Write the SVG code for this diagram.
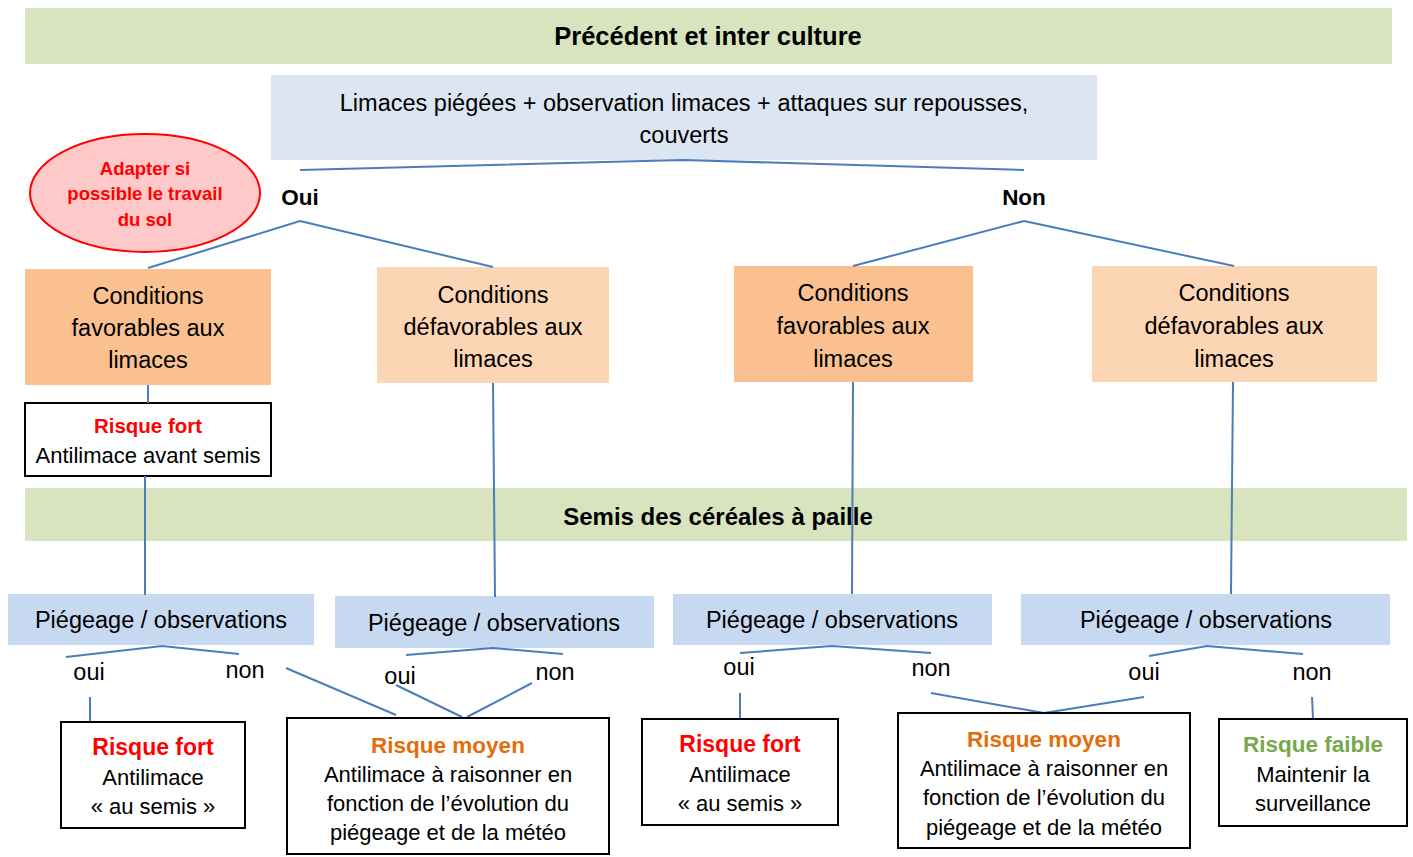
<svg xmlns="http://www.w3.org/2000/svg" width="1413" height="857" viewBox="0 0 1413 857">
<style>
text{font-family:"Liberation Sans",Arial,sans-serif;fill:#000;text-anchor:middle}
.t{font-size:23.5px}
.s{font-size:22px}
.b{font-weight:bold}
.band{fill:#d7e4bd}
.blue{fill:#dce6f2}
.pie{fill:#c6d9f1}
.or1{fill:#fac090}
.or2{fill:#fcd5b5}
.res{fill:#fff;stroke:#000;stroke-width:2}
.red{fill:#ff0000}
.org{fill:#e46c0a}
.grn{fill:#77a84a}
#connectors line,#connectors polyline{stroke:#4a7ebb;stroke-width:2;fill:none}
</style>
<g id="band1"><rect class="band" x="25" y="8" width="1367" height="56"/><text class="b" x="708" y="45" font-size="25.5">Précédent et inter culture</text></g>
<g id="question"><rect class="blue" x="271" y="75" width="826" height="85"/>
<text class="t" x="684" y="111">Limaces piégées + observation limaces + attaques sur repousses,</text>
<text class="t" x="684" y="143">couverts</text></g>
<g id="ellipse"><ellipse cx="145" cy="193" rx="115" ry="59" fill="#ffc9c9" stroke="#ff0000" stroke-width="2"/>
<text class="b red" font-size="18.5" x="145" y="175">Adapter si</text>
<text class="b red" font-size="18.5" x="145" y="200">possible le travail</text>
<text class="b red" font-size="18.5" x="145" y="226">du sol</text></g>
<g id="oui"><text class="b" font-size="22.5" x="300" y="205">Oui</text></g>
<g id="non"><text class="b" font-size="22.5" x="1024" y="205">Non</text></g>
<g id="cond1"><rect class="or1" x="25" y="269" width="246" height="116"/>
<text class="t" x="148" y="304">Conditions</text><text class="t" x="148" y="336">favorables aux</text><text class="t" x="148" y="368">limaces</text></g>
<g id="cond2"><rect class="or2" x="377" y="267" width="232" height="116"/>
<text class="t" x="493" y="303">Conditions</text><text class="t" x="493" y="335">défavorables aux</text><text class="t" x="493" y="367">limaces</text></g>
<g id="cond3"><rect class="or1" x="734" y="266" width="239" height="116"/>
<text class="t" x="853" y="301">Conditions</text><text class="t" x="853" y="334">favorables aux</text><text class="t" x="853" y="367">limaces</text></g>
<g id="cond4"><rect class="or2" x="1092" y="266" width="285" height="116"/>
<text class="t" x="1234" y="301">Conditions</text><text class="t" x="1234" y="334">défavorables aux</text><text class="t" x="1234" y="367">limaces</text></g>
<g id="risk0"><rect class="res" x="25" y="403" width="246" height="73"/>
<text class="b red" font-size="20.5" x="148" y="433">Risque fort</text>
<text class="s" x="148" y="463">Antilimace avant semis</text></g>
<g id="band2"><rect class="band" x="25" y="488" width="1382" height="53"/><text class="b" x="718" y="525" font-size="24">Semis des céréales à paille</text></g>
<g id="pieA"><rect class="pie" x="8" y="594" width="306" height="51"/><text class="t" x="161" y="628">Piégeage / observations</text></g>
<g id="pieB"><rect class="pie" x="335" y="596" width="319" height="52"/><text class="t" x="494" y="631">Piégeage / observations</text></g>
<g id="pieC"><rect class="pie" x="673" y="594" width="319" height="51"/><text class="t" x="832" y="628">Piégeage / observations</text></g>
<g id="pieD"><rect class="pie" x="1021" y="594" width="369" height="51"/><text class="t" x="1206" y="628">Piégeage / observations</text></g>
<g id="labels">
<text class="t" x="89" y="680">oui</text><text class="t" x="245" y="678">non</text>
<text class="t" x="400" y="684">oui</text><text class="t" x="555" y="680">non</text>
<text class="t" x="739" y="675">oui</text><text class="t" x="931" y="676">non</text>
<text class="t" x="1144" y="680">oui</text><text class="t" x="1312" y="680">non</text>
</g>
<g id="connectors">
<polyline points="300,170 683,160 1024,170"/>
<line x1="300" y1="221" x2="148" y2="268"/><line x1="300" y1="221" x2="493" y2="267"/>
<line x1="1024" y1="221" x2="853" y2="266"/><line x1="1024" y1="221" x2="1234" y2="266"/>
<line x1="148" y1="385" x2="148" y2="403"/>
<line x1="145" y1="476" x2="145" y2="595"/>
<line x1="493" y1="383" x2="495" y2="597"/>
<line x1="853" y1="382" x2="852" y2="594"/>
<line x1="1233" y1="382" x2="1231" y2="594"/>
<polyline points="66,657 162,646 239,654"/>
<polyline points="406,655 493,648 563,654"/>
<polyline points="740,653 832,646 931,653"/>
<polyline points="1149,656 1207,646 1303,654"/>
<line x1="90" y1="697" x2="90" y2="722"/>
<line x1="286" y1="668" x2="396" y2="715"/>
<line x1="396" y1="685" x2="462" y2="717"/>
<line x1="532" y1="683" x2="467" y2="717"/>
<line x1="740" y1="693" x2="740" y2="718"/>
<line x1="931" y1="693" x2="1044" y2="713"/>
<line x1="1144" y1="697" x2="1044" y2="713"/>
<line x1="1312" y1="697" x2="1313" y2="718"/>
</g>
<g id="riskA"><rect class="res" x="61" y="722" width="184" height="106"/>
<text class="b red" font-size="23" x="153" y="755">Risque fort</text>
<text class="s" x="153" y="785">Antilimace</text><text class="s" x="153" y="814">« au semis »</text></g>
<g id="riskB"><rect class="res" x="287" y="718" width="322" height="136"/>
<text class="b org" font-size="22.5" x="448" y="753">Risque moyen</text>
<text class="s" x="448" y="782">Antilimace à raisonner en</text>
<text class="s" x="448" y="811">fonction de l’évolution du</text>
<text class="s" x="448" y="840">piégeage et de la météo</text></g>
<g id="riskC"><rect class="res" x="642" y="719" width="196" height="106"/>
<text class="b red" font-size="23" x="740" y="752">Risque fort</text>
<text class="s" x="740" y="782">Antilimace</text><text class="s" x="740" y="811">« au semis »</text></g>
<g id="riskD"><rect class="res" x="898" y="713" width="292" height="135"/>
<text class="b org" font-size="22.5" x="1044" y="747">Risque moyen</text>
<text class="s" x="1044" y="776">Antilimace à raisonner en</text>
<text class="s" x="1044" y="805">fonction de l’évolution du</text>
<text class="s" x="1044" y="835">piégeage et de la météo</text></g>
<g id="riskE"><rect class="res" x="1219" y="719" width="188" height="107"/>
<text class="b grn" font-size="22.5" x="1313" y="752">Risque faible</text>
<text class="s" x="1313" y="782">Maintenir la</text><text class="s" x="1313" y="811">surveillance</text></g>
</svg>
